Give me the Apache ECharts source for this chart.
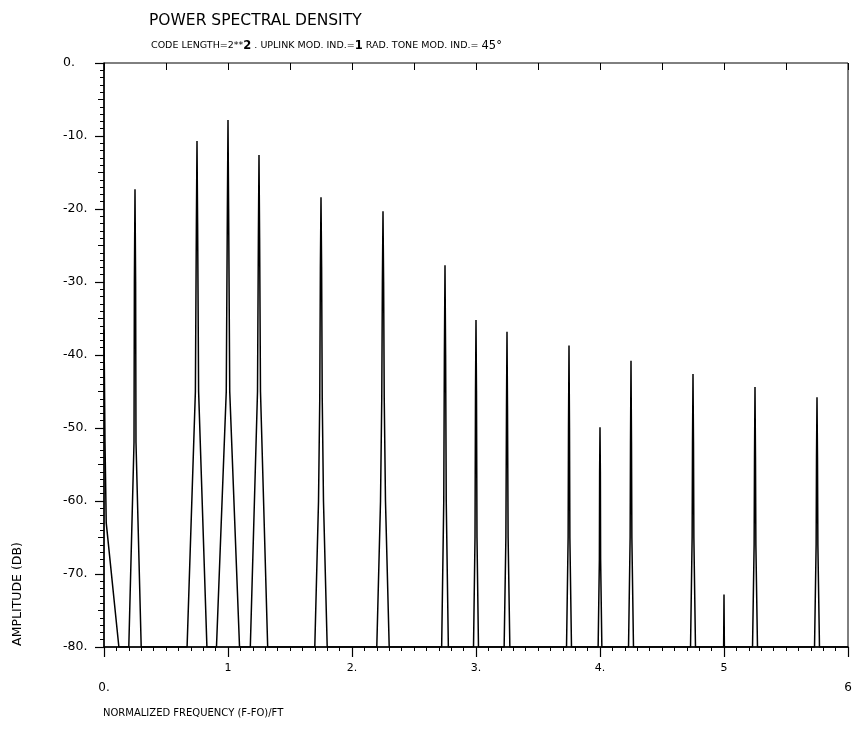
<!DOCTYPE html>
<html>
<head>
<meta charset="utf-8">
<script src="https://cdn.jsdelivr.net/npm/echarts@6/dist/echarts.min.js"></script>
<style>
html,body{margin:0;padding:0;background:#fff;}
#chart{width:857px;height:730px;}
</style>
</head>
<body>
<div id="chart"></div>
<script>
// ---- data ----
const titleText = 'POWER SPECTRAL DENSITY';
const xTickValues = [0, 1, 2, 3, 4, 5, 6];
const xTickLabels = ['0.', '1', '2.', '3.', '4.', '5', '6'];
const yTickValues = [-80, -70, -60, -50, -40, -30, -20, -10, 0];
const yTickLabels = ['-80.', '-70.', '-60.', '-50.', '-40.', '-30.', '-20.', '-10.', '0.'];

// spectrum trace vertices (normalized frequency, amplitude dB)
const traceFreq = [
  0.000, 0.008, 0.018, 0.120,
  0.200, 0.242, 0.245, 0.250, 0.255, 0.258, 0.300,
  0.670, 0.737, 0.745, 0.750, 0.755, 0.763, 0.830,
  0.907, 0.986, 0.995, 1.000, 1.005, 1.014, 1.093,
  1.180, 1.238, 1.245, 1.250, 1.255, 1.262, 1.320,
  1.700, 1.730, 1.740, 1.745, 1.750, 1.755, 1.760, 1.770, 1.800,
  2.200, 2.230, 2.240, 2.245, 2.250, 2.255, 2.260, 2.270, 2.300,
  2.723, 2.740, 2.745, 2.750, 2.755, 2.760, 2.777,
  2.980, 2.992, 2.996, 3.000, 3.004, 3.008, 3.020,
  3.227, 3.241, 3.246, 3.250, 3.254, 3.259, 3.273,
  3.730, 3.743, 3.746, 3.750, 3.754, 3.757, 3.770,
  3.985, 3.995, 3.997, 4.000, 4.003, 4.005, 4.015,
  4.230, 4.243, 4.246, 4.250, 4.254, 4.257, 4.270,
  4.730, 4.743, 4.746, 4.750, 4.754, 4.757, 4.770,
  4.997, 5.000, 5.003,
  5.230, 5.243, 5.246, 5.250, 5.254, 5.257, 5.270,
  5.730, 5.743, 5.746, 5.750, 5.754, 5.757, 5.770,
  6.000
];
const traceAmp = [
  -36.5, -52, -63, -80,
  -80, -52, -30, -17.3, -30, -52, -80,
  -80, -45, -22, -10.7, -22, -45, -80,
  -80, -45, -20, -7.8, -20, -45, -80,
  -80, -45, -24, -12.6, -24, -45, -80,
  -80, -60, -46, -28, -18.4, -28, -46, -60, -80,
  -80, -60, -46, -30, -20.3, -30, -46, -60, -80,
  -80, -60, -40, -27.7, -40, -60, -80,
  -80, -65, -45, -35.2, -45, -65, -80,
  -80, -65, -47, -36.8, -47, -65, -80,
  -80, -65, -50, -38.7, -50, -65, -80,
  -80, -68, -56, -49.9, -56, -68, -80,
  -80, -65, -52, -40.8, -52, -65, -80,
  -80, -65, -52, -42.6, -52, -65, -80,
  -80, -72.8, -80,
  -80, -66, -54, -44.4, -54, -66, -80,
  -80, -66, -54, -45.8, -54, -66, -80,
  -80
];

const FONT = "'DejaVu Sans', sans-serif";
const chart = echarts.init(document.getElementById('chart'), null, {renderer: 'canvas'});

const traceData = traceFreq.map((f, i) => [f, traceAmp[i]]);

const option = {
  animation: false,
  backgroundColor: '#ffffff',
  title: [
    {
      text: titleText, left: 144, top: 8,
      textStyle: {fontFamily: FONT, fontSize: 15.5, fontWeight: 'normal', color: '#000'}
    },
    {
      text: 'CODE LENGTH=2**{b|2} . UPLINK MOD. IND.={b|1} RAD. TONE MOD. IND.= {c|45°}',
      left: 146, top: 35,
      textStyle: {
        fontFamily: FONT, fontSize: 9.5, fontWeight: 'normal', color: '#000',
        rich: {
          b: {fontFamily: FONT, fontSize: 11.5, fontWeight: 'bold', color: '#000'},
          c: {fontFamily: FONT, fontSize: 11.5, color: '#000'}
        }
      }
    }
  ],
  grid: {left: 104, right: 9, top: 63, bottom: 83, show: true, borderColor: '#000', borderWidth: 1},
  xAxis: [
    {
      type: 'value', min: 0, max: 6, interval: 1, position: 'bottom',
      axisLine: {show: true, onZero: false, lineStyle: {color: '#000', width: 1.5}},
      axisTick: {show: true, inside: false, length: 10, lineStyle: {color: '#000', width: 1.2}},
      minorTick: {show: true, splitNumber: 10, length: 4, lineStyle: {color: '#000', width: 1}},
      splitLine: {show: false},
      axisLabel: {
        margin: 16, color: '#000', fontFamily: FONT, fontSize: 11,
        formatter: function (v) {
          const i = xTickValues.indexOf(v);
          const s = i >= 0 ? xTickLabels[i] : '';
          if (v === 0 || v === 6) return '{low|' + s + '}';
          return s;
        },
        rich: {low: {fontFamily: FONT, fontSize: 12, color: '#000', padding: [19, 0, 0, 0]}}
      }
    },
    {
      type: 'value', min: 0, max: 6, interval: 0.5, position: 'bottom', offset: 0,
      axisLine: {show: false},
      axisTick: {show: true, inside: false, length: 7, lineStyle: {color: '#000', width: 1}},
      axisLabel: {show: false},
      splitLine: {show: false}
    }
  ],
  yAxis: [
    {
      type: 'value', min: -80, max: 0, interval: 10, position: 'left',
      axisLine: {show: true, onZero: false, lineStyle: {color: '#000', width: 1.5}},
      axisTick: {show: true, inside: false, length: 9, lineStyle: {color: '#000', width: 1.2}},
      minorTick: {show: true, splitNumber: 10, length: 4, lineStyle: {color: '#000', width: 1}},
      splitLine: {show: false},
      axisLabel: {
        margin: 41, align: 'left', color: '#000', fontFamily: FONT, fontSize: 12.5,
        formatter: function (v) {
          const i = yTickValues.indexOf(v);
          return i >= 0 ? yTickLabels[i] : '';
        }
      }
    },
    {
      type: 'value', min: -80, max: 0, interval: 5, position: 'left', offset: 0,
      axisLine: {show: false},
      axisTick: {show: true, inside: false, length: 6, lineStyle: {color: '#000', width: 1}},
      axisLabel: {show: false},
      splitLine: {show: false}
    }
  ],
  graphic: [
    {
      type: 'text', left: 103, top: 708,
      style: {text: 'NORMALIZED FREQUENCY (F-FO)/FT', fontFamily: FONT, fontSize: 10, fill: '#000'}
    },
    {
      type: 'text', x: 18, y: 594, rotation: Math.PI / 2,
      style: {text: 'AMPLITUDE (DB)', fontFamily: FONT, fontSize: 12.5, fill: '#000',
              textAlign: 'center', textVerticalAlign: 'middle'}
    }
  ],
  series: [
    {
      type: 'line', xAxisIndex: 0, yAxisIndex: 0,
      data: traceData, showSymbol: false, symbol: 'none',
      lineStyle: {color: '#000', width: 1.5},
      clip: true
    }
  ]
};
chart.setOption(option);
</script>
</body>
</html>
